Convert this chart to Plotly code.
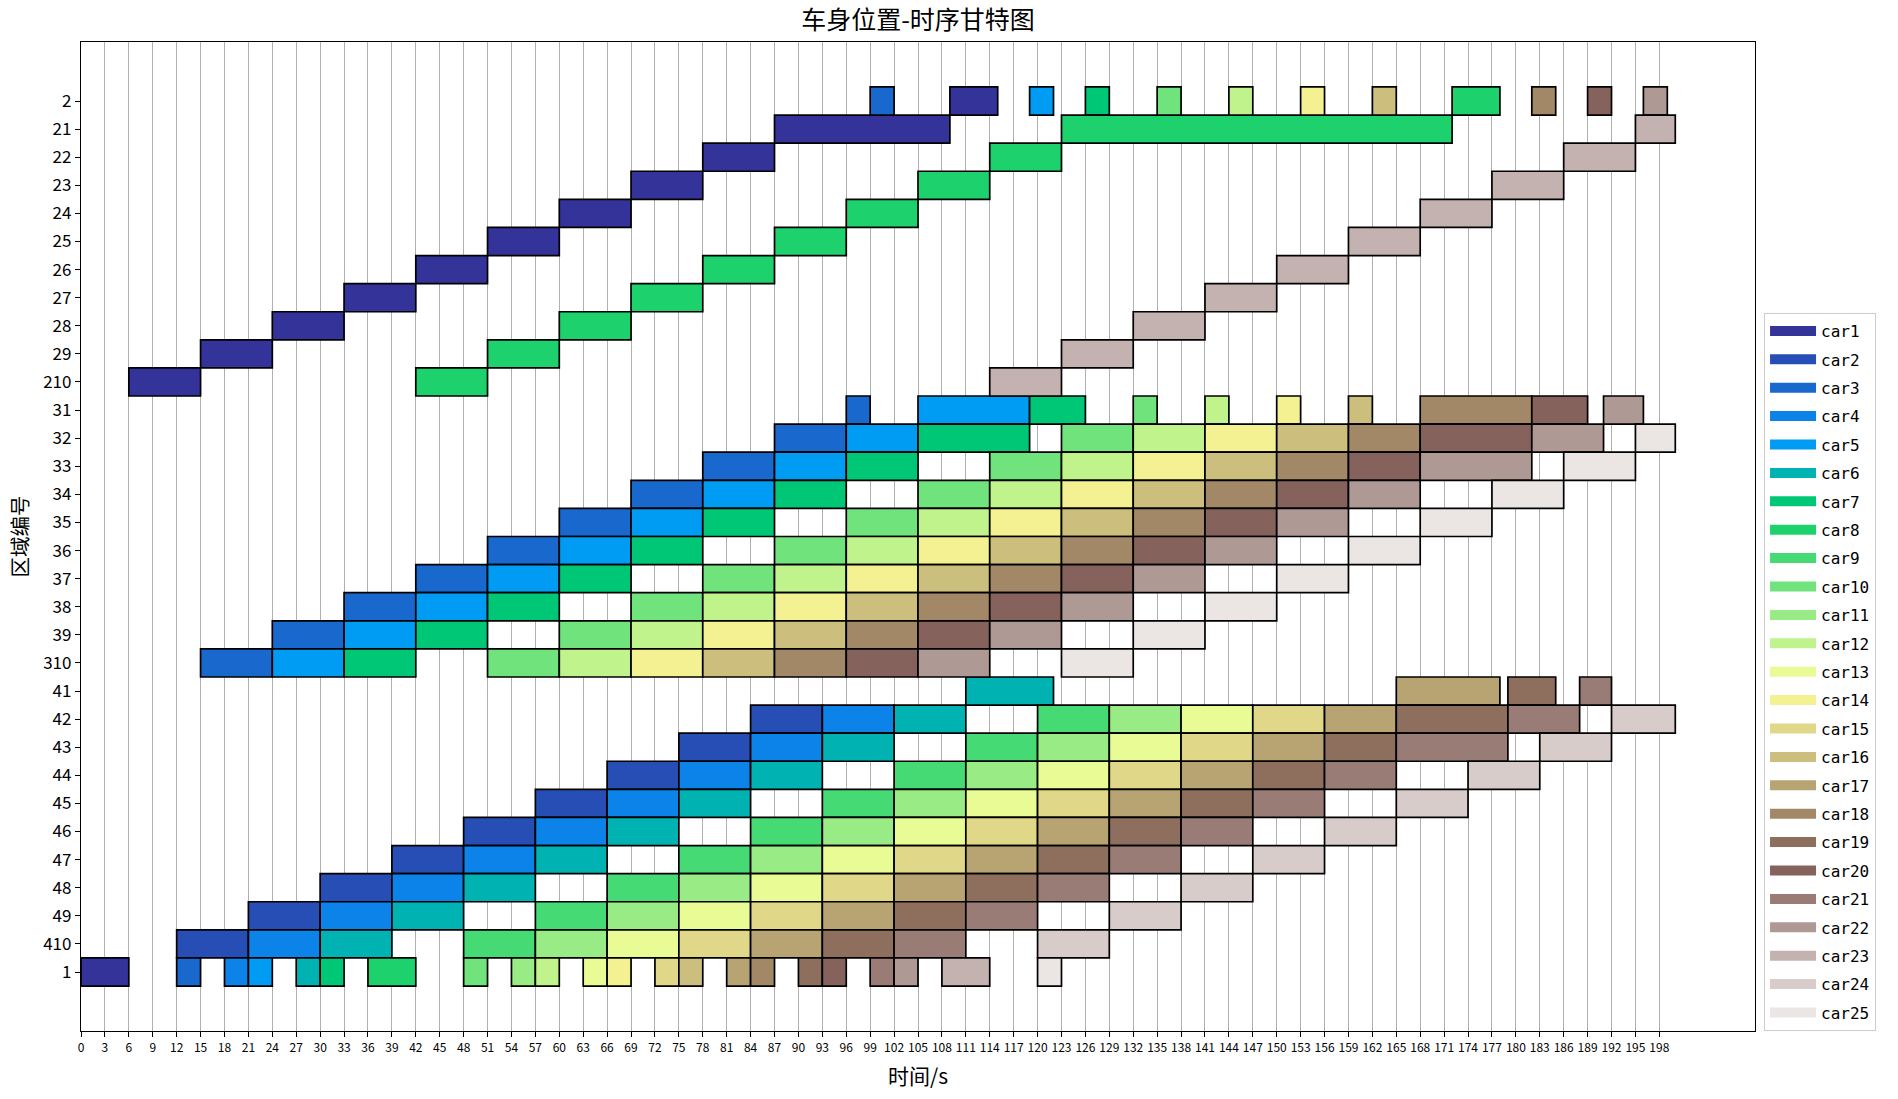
import plotly.graph_objects as go

# ---------------- data ----------------
region_labels = ["2", "21", "22", "23", "24", "25", "26", "27", "28", "29", "210",
                 "31", "32", "33", "34", "35", "36", "37", "38", "39", "310",
                 "41", "42", "43", "44", "45", "46", "47", "48", "49", "410", "1"]  # top -> bottom

car_names = ["car1", "car2", "car3", "car4", "car5", "car6", "car7", "car8", "car9", "car10",
             "car11", "car12", "car13", "car14", "car15", "car16", "car17", "car18", "car19", "car20",
             "car21", "car22", "car23", "car24", "car25"]

x_tick_values = list(range(0, 199, 3))

# region visited by each car, in order
routes = [
    ["1", "210", "29", "28", "27", "26", "25", "24", "23", "22", "21", "2"],          # car1
    ["410", "49", "48", "47", "46", "45", "44", "43", "42"],                          # car2
    ["1", "310", "39", "38", "37", "36", "35", "34", "33", "32", "31", "2"],          # car3
    ["1", "410", "49", "48", "47", "46", "45", "44", "43", "42"],                     # car4
    ["1", "310", "39", "38", "37", "36", "35", "34", "33", "32", "31", "2"],          # car5
    ["1", "410", "49", "48", "47", "46", "45", "44", "43", "42", "41"],               # car6
    ["1", "310", "39", "38", "37", "36", "35", "34", "33", "32", "31", "2"],          # car7
    ["1", "210", "29", "28", "27", "26", "25", "24", "23", "22", "21", "2"],          # car8
    ["410", "49", "48", "47", "46", "45", "44", "43", "42"],                          # car9
    ["1", "310", "39", "38", "37", "36", "35", "34", "33", "32", "31", "2"],          # car10
    ["1", "410", "49", "48", "47", "46", "45", "44", "43", "42"],                     # car11
    ["1", "310", "39", "38", "37", "36", "35", "34", "33", "32", "31", "2"],          # car12
    ["1", "410", "49", "48", "47", "46", "45", "44", "43", "42"],                     # car13
    ["1", "310", "39", "38", "37", "36", "35", "34", "33", "32", "31", "2"],          # car14
    ["1", "410", "49", "48", "47", "46", "45", "44", "43", "42"],                     # car15
    ["1", "310", "39", "38", "37", "36", "35", "34", "33", "32", "31", "2"],          # car16
    ["1", "410", "49", "48", "47", "46", "45", "44", "43", "42", "41"],               # car17
    ["1", "310", "39", "38", "37", "36", "35", "34", "33", "32", "31", "2"],          # car18
    ["1", "410", "49", "48", "47", "46", "45", "44", "43", "42", "41"],               # car19
    ["1", "310", "39", "38", "37", "36", "35", "34", "33", "32", "31", "2"],          # car20
    ["1", "410", "49", "48", "47", "46", "45", "44", "43", "42", "41"],               # car21
    ["1", "310", "39", "38", "37", "36", "35", "34", "33", "32", "31", "2"],          # car22
    ["1", "210", "29", "28", "27", "26", "25", "24", "23", "22", "21"],               # car23
    ["410", "49", "48", "47", "46", "45", "44", "43", "42"],                          # car24
    ["1", "310", "39", "38", "37", "36", "35", "34", "33", "32"],                     # car25
]

# boundary times (s) of each stay: stay k lasts times[k] .. times[k+1]
times = [
    [0, 6, 15, 24, 33, 42, 51, 60, 69, 78, 87, 109, 115],          # car1
    [12, 21, 30, 39, 48, 57, 66, 75, 84, 93],                      # car2
    [12, 15, 24, 33, 42, 51, 60, 69, 78, 87, 96, 99, 102],         # car3
    [18, 21, 30, 39, 48, 57, 66, 75, 84, 93, 102],                 # car4
    [21, 24, 33, 42, 51, 60, 69, 78, 87, 96, 105, 119, 122],       # car5
    [27, 30, 39, 48, 57, 66, 75, 84, 93, 102, 111, 122],           # car6
    [30, 33, 42, 51, 60, 69, 78, 87, 96, 105, 119, 126, 129],      # car7
    [36, 42, 51, 60, 69, 78, 87, 96, 105, 114, 123, 172, 178],     # car8
    [48, 57, 66, 75, 84, 93, 102, 111, 120, 129],                  # car9
    [48, 51, 60, 69, 78, 87, 96, 105, 114, 123, 132, 135, 138],    # car10
    [54, 57, 66, 75, 84, 93, 102, 111, 120, 129, 138],             # car11
    [57, 60, 69, 78, 87, 96, 105, 114, 123, 132, 141, 144, 147],   # car12
    [63, 66, 75, 84, 93, 102, 111, 120, 129, 138, 147],            # car13
    [66, 69, 78, 87, 96, 105, 114, 123, 132, 141, 150, 153, 156],  # car14
    [72, 75, 84, 93, 102, 111, 120, 129, 138, 147, 156],           # car15
    [75, 78, 87, 96, 105, 114, 123, 132, 141, 150, 159, 162, 165], # car16
    [81, 84, 93, 102, 111, 120, 129, 138, 147, 156, 165, 178],     # car17
    [84, 87, 96, 105, 114, 123, 132, 141, 150, 159, 168, 182, 185],# car18
    [90, 93, 102, 111, 120, 129, 138, 147, 156, 165, 179, 185],    # car19
    [93, 96, 105, 114, 123, 132, 141, 150, 159, 168, 182, 189, 192],# car20
    [99, 102, 111, 120, 129, 138, 147, 156, 165, 179, 188, 192],   # car21
    [102, 105, 114, 123, 132, 141, 150, 159, 168, 182, 191, 196, 199],# car22
    [108, 114, 123, 132, 141, 150, 159, 168, 177, 186, 195, 200],  # car23
    [120, 129, 138, 147, 156, 165, 174, 183, 192, 200],            # car24
    [120, 123, 132, 141, 150, 159, 168, 177, 186, 195, 200],       # car25
]

# ---------------- colours: matplotlib "terrain" colormap ----------------
terrain_nodes = [0.0, 0.15, 0.25, 0.50, 0.75, 1.0]
terrain_rgb = [(0.2, 0.2, 0.6), (0.0, 0.6, 1.0), (0.0, 0.8, 0.4),
               (1.0, 1.0, 0.6), (0.5, 0.36, 0.33), (1.0, 1.0, 1.0)]


def terrain(v):
    v = min(int(v * 256), 255) / 255.0
    for k in range(len(terrain_nodes) - 1):
        a, b = terrain_nodes[k], terrain_nodes[k + 1]
        if a <= v <= b:
            f = (v - a) / (b - a)
            c = [terrain_rgb[k][j] + f * (terrain_rgb[k + 1][j] - terrain_rgb[k][j]) for j in range(3)]
            return "rgb(%d,%d,%d)" % tuple(round(255 * x) for x in c)
    return "rgb(255,255,255)"


n_rows = len(region_labels)
ypos = {lab: n_rows - 1 - i for i, lab in enumerate(region_labels)}

FONT = "SimHei, Noto Sans CJK SC, sans-serif"
MONO = "DejaVu Sans Mono, monospace"

fig = go.Figure()
for i, name in enumerate(car_names):
    col = terrain(i / len(car_names))
    r = routes[i]
    t = times[i]
    fig.add_trace(go.Bar(
        orientation="h",
        y=[ypos[g] for g in r],
        base=t[:-1],
        x=[t[k + 1] - t[k] for k in range(len(r))],
        width=1.0,
        marker=dict(color=col, line=dict(color="black", width=1.7)),
        name=name, legendgroup=name, showlegend=False,
    ))
    fig.add_trace(go.Scatter(
        x=[None], y=[None], mode="lines",
        line=dict(color=col, width=14),
        name=name, legendgroup=name, showlegend=True,
    ))

fig.update_layout(
    width=1898, height=1099,
    margin=dict(l=81, r=143, t=42, b=68),
    paper_bgcolor="white", plot_bgcolor="white",
    barmode="overlay",
    font=dict(family=FONT, color="black"),
    title=dict(text="车身位置-时序甘特图", x=0.5, xref="paper", xanchor="center",
               y=1 - 20 / 1099, yref="container", yanchor="middle",
               font=dict(size=25, family=FONT, color="black")),
    legend=dict(x=1.0054, xanchor="left", y=0.0, yanchor="bottom",
                bordercolor="#cccccc", borderwidth=1, bgcolor="white",
                font=dict(size=16, family=MONO), traceorder="grouped",
                tracegroupgap=4.6, itemwidth=46),
    showlegend=True,
)
fig.update_xaxes(
    range=[0, 210], tickmode="array", tickvals=x_tick_values,
    ticktext=[str(v) for v in x_tick_values],
    showgrid=True, gridcolor="#b0b0b0", gridwidth=1.4,
    zeroline=False, showline=True, linecolor="black", linewidth=1.3, mirror=True,
    ticks="outside", ticklen=5, tickcolor="black", tickfont=dict(size=12, family=FONT),
    automargin=False, tickangle=0,
)
fig.update_yaxes(
    range=[-2.1, 33.1], tickmode="array", tickvals=[ypos[g] for g in region_labels],
    ticktext=region_labels, showgrid=False, zeroline=False,
    showline=True, linecolor="black", linewidth=1.3, mirror=True,
    ticks="outside", ticklen=5, tickcolor="black", tickfont=dict(size=17, family=FONT),
    automargin=False,
)
fig.add_annotation(text="时间/s", xref="paper", yref="paper", x=0.5, y=(1031 - 1075) / 989,
                   xanchor="center", yanchor="middle", showarrow=False,
                   font=dict(size=21, family=FONT))
fig.add_annotation(text="区域编号", xref="paper", yref="paper", x=(18 - 81) / 1674, y=0.5,
                   xanchor="center", yanchor="middle", textangle=-90, showarrow=False,
                   font=dict(size=20.5, family=FONT))

fig.write_html("out.html", config={"displayModeBar": False},
               post_script="document.body.style.margin='0';")
